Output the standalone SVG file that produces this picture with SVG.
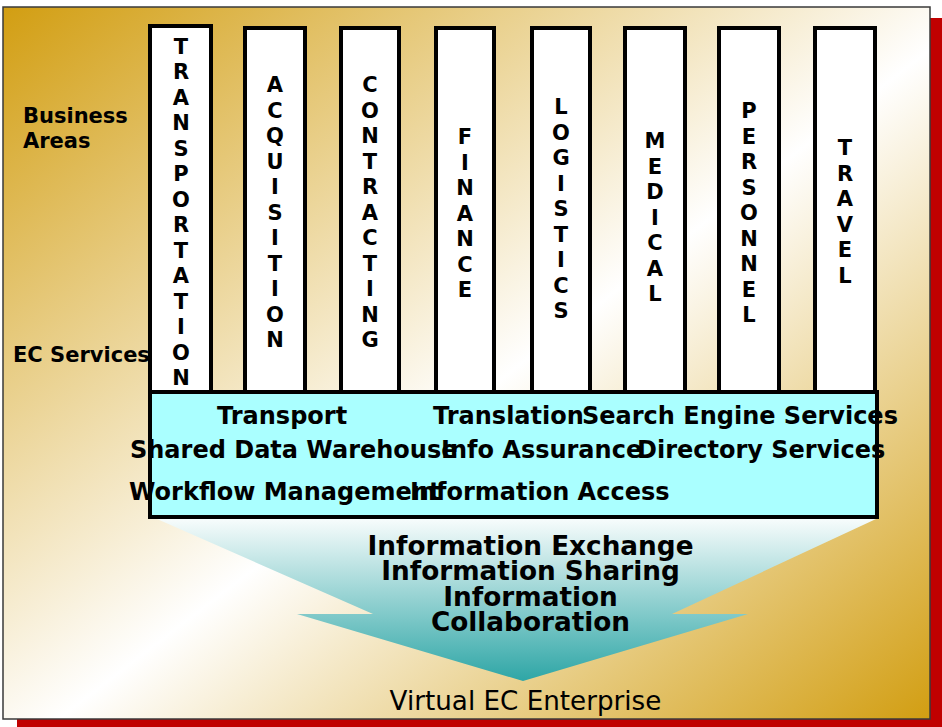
<svg xmlns="http://www.w3.org/2000/svg" width="942" height="727" viewBox="0 0 942 727">
<defs>
<linearGradient id="bg" x1="0" y1="0" x2="1" y2="1">
<stop offset="0" stop-color="#D29E12"/>
<stop offset="0.53" stop-color="#FFFFFF"/>
<stop offset="1" stop-color="#D29E12"/>
</linearGradient>
<linearGradient id="arr" x1="0" y1="0" x2="0" y2="1">
<stop offset="0" stop-color="#F7FCFC"/>
<stop offset="1" stop-color="#2EA6A6"/>
</linearGradient>
</defs>
<style>
.col{fill:#FFFFFF;stroke:#000;stroke-width:4}
.ct{font-family:"DejaVu Sans",sans-serif;font-weight:bold;font-size:21px;text-anchor:middle;fill:#000}
.lbl{font-family:"DejaVu Sans",sans-serif;font-weight:bold;font-size:21px;fill:#000}
.bt{font-family:"DejaVu Sans",sans-serif;font-weight:bold;font-size:24px;fill:#000}
.at{font-family:"DejaVu Sans",sans-serif;font-weight:bold;font-size:26.3px;text-anchor:middle;fill:#000}
</style>
<rect x="17" y="18" width="925" height="709" fill="#C00000"/>
<rect x="3" y="7" width="927" height="712" fill="url(#bg)" stroke="#3A3A3A" stroke-width="1.5"/>

<g id="label-business-areas"><text class="lbl" x="23" y="123">Business</text><text class="lbl" x="23" y="148">Areas</text></g>
<g id="label-ec-services"><text class="lbl" x="13" y="362">EC Services</text></g>

<g id="flow-arrow">
<polygon points="157,519 876,519 672,614 748,614 523,681 297,614 373,614" fill="url(#arr)"/>
<text class="at" x="530.5" y="555">Information Exchange</text>
<text class="at" x="530.5" y="580">Information Sharing</text>
<text class="at" x="530.5" y="606">Information</text>
<text class="at" x="530.5" y="631">Collaboration</text>
</g>

<g id="col-transportation"><rect class="col" x="150" y="26" width="61" height="368"/>
<text class="ct" x="181" y="53.5"><tspan x="181">T</tspan><tspan x="181" dy="25.5">R</tspan><tspan x="181" dy="25.5">A</tspan><tspan x="181" dy="25.5">N</tspan><tspan x="181" dy="25.5">S</tspan><tspan x="181" dy="25.5">P</tspan><tspan x="181" dy="25.5">O</tspan><tspan x="181" dy="25.5">R</tspan><tspan x="181" dy="25.5">T</tspan><tspan x="181" dy="25.5">A</tspan><tspan x="181" dy="25.5">T</tspan><tspan x="181" dy="25.5">I</tspan><tspan x="181" dy="25.5">O</tspan><tspan x="181" dy="25.5">N</tspan></text></g>
<g id="col-acquisition"><rect class="col" x="245" y="28" width="60" height="366"/>
<text class="ct" x="275" y="92"><tspan x="275">A</tspan><tspan x="275" dy="25.5">C</tspan><tspan x="275" dy="25.5">Q</tspan><tspan x="275" dy="25.5">U</tspan><tspan x="275" dy="25.5">I</tspan><tspan x="275" dy="25.5">S</tspan><tspan x="275" dy="25.5">I</tspan><tspan x="275" dy="25.5">T</tspan><tspan x="275" dy="25.5">I</tspan><tspan x="275" dy="25.5">O</tspan><tspan x="275" dy="25.5">N</tspan></text></g>
<g id="col-contracting"><rect class="col" x="341" y="28" width="58" height="366"/>
<text class="ct" x="370" y="92"><tspan x="370">C</tspan><tspan x="370" dy="25.5">O</tspan><tspan x="370" dy="25.5">N</tspan><tspan x="370" dy="25.5">T</tspan><tspan x="370" dy="25.5">R</tspan><tspan x="370" dy="25.5">A</tspan><tspan x="370" dy="25.5">C</tspan><tspan x="370" dy="25.5">T</tspan><tspan x="370" dy="25.5">I</tspan><tspan x="370" dy="25.5">N</tspan><tspan x="370" dy="25.5">G</tspan></text></g>
<g id="col-finance"><rect class="col" x="436" y="28" width="58" height="366"/>
<text class="ct" x="465" y="144"><tspan x="465">F</tspan><tspan x="465" dy="25.5">I</tspan><tspan x="465" dy="25.5">N</tspan><tspan x="465" dy="25.5">A</tspan><tspan x="465" dy="25.5">N</tspan><tspan x="465" dy="25.5">C</tspan><tspan x="465" dy="25.5">E</tspan></text></g>
<g id="col-logistics"><rect class="col" x="532" y="28" width="58" height="366"/>
<text class="ct" x="561" y="114"><tspan x="561">L</tspan><tspan x="561" dy="25.5">O</tspan><tspan x="561" dy="25.5">G</tspan><tspan x="561" dy="25.5">I</tspan><tspan x="561" dy="25.5">S</tspan><tspan x="561" dy="25.5">T</tspan><tspan x="561" dy="25.5">I</tspan><tspan x="561" dy="25.5">C</tspan><tspan x="561" dy="25.5">S</tspan></text></g>
<g id="col-medical"><rect class="col" x="625" y="28" width="60" height="366"/>
<text class="ct" x="655" y="148"><tspan x="655">M</tspan><tspan x="655" dy="25.5">E</tspan><tspan x="655" dy="25.5">D</tspan><tspan x="655" dy="25.5">I</tspan><tspan x="655" dy="25.5">C</tspan><tspan x="655" dy="25.5">A</tspan><tspan x="655" dy="25.5">L</tspan></text></g>
<g id="col-personnel"><rect class="col" x="719" y="28" width="60" height="366"/>
<text class="ct" x="749" y="118"><tspan x="749">P</tspan><tspan x="749" dy="25.5">E</tspan><tspan x="749" dy="25.5">R</tspan><tspan x="749" dy="25.5">S</tspan><tspan x="749" dy="25.5">O</tspan><tspan x="749" dy="25.5">N</tspan><tspan x="749" dy="25.5">N</tspan><tspan x="749" dy="25.5">E</tspan><tspan x="749" dy="25.5">L</tspan></text></g>
<g id="col-travel"><rect class="col" x="815" y="28" width="60" height="366"/>
<text class="ct" x="845" y="155"><tspan x="845">T</tspan><tspan x="845" dy="25.5">R</tspan><tspan x="845" dy="25.5">A</tspan><tspan x="845" dy="25.5">V</tspan><tspan x="845" dy="25.5">E</tspan><tspan x="845" dy="25.5">L</tspan></text></g>

<g id="ec-services-box">
<rect x="150" y="392" width="727" height="125" fill="#AAFFFF" stroke="#000" stroke-width="4"/>
<text class="bt" x="217" y="424">Transport</text>
<text class="bt" x="433" y="424">Translation</text>
<text class="bt" x="582" y="424">Search Engine Services</text>
<text class="bt" x="130" y="458">Shared Data Warehouse</text>
<text class="bt" x="441" y="458">Info Assurance</text>
<text class="bt" x="637" y="458">Directory Services</text>
<text class="bt" x="129" y="500">Workflow Management</text>
<text class="bt" x="410" y="500">Information Access</text>
</g>

<g id="label-virtual-ec"><text x="525.5" y="710" font-family="DejaVu Sans, sans-serif" font-size="26.2" text-anchor="middle" fill="#000">Virtual EC Enterprise</text></g>
<g id="connectors"/>
</svg>
